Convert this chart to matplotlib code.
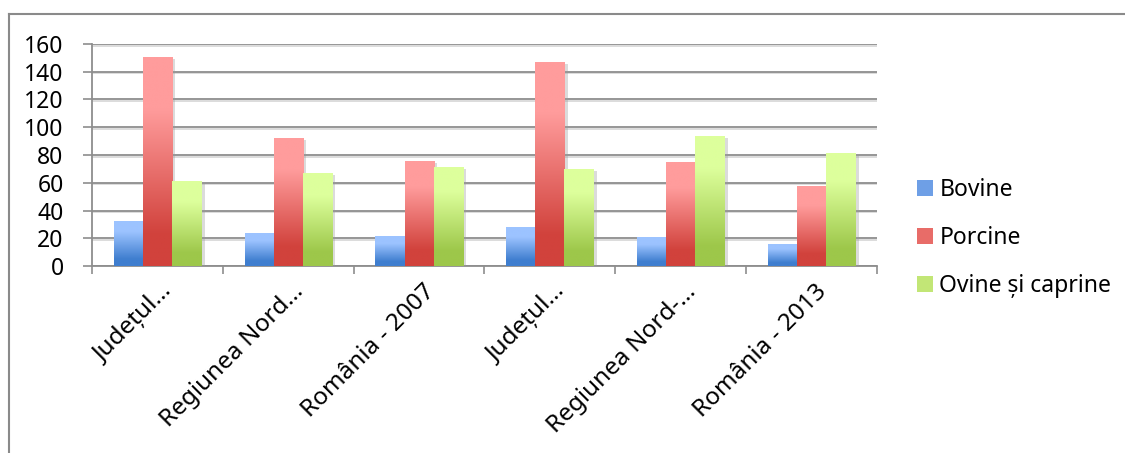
import matplotlib
matplotlib.use("Agg")
import matplotlib.pyplot as plt
import matplotlib.patheffects as pe
import matplotlib.transforms as mtransforms
from matplotlib.colors import LinearSegmentedColormap
from matplotlib.patches import Rectangle
from matplotlib.lines import Line2D
import numpy as np

plt.rcParams["font.family"] = ["Noto Sans", "DejaVu Sans"]

categories = ["Județul…", "Regiunea Nord…", "România - 2007",
              "Județul…", "Regiunea Nord-…", "România - 2013"]
series_names = ["Bovine", "Porcine", "Ovine și caprine"]
bovine = [32.5, 23.8, 21.6, 28.1, 20.7, 15.9]
porcine = [150.8, 92.4, 75.8, 147.2, 75.0, 57.7]
ovine = [61.3, 67.1, 71.4, 70.0, 93.8, 81.5]
y_ticks = [0, 20, 40, 60, 80, 100, 120, 140, 160]

# bottom (dark) -> top (light) gradient colours per series
grad_colors = [("#3F7ECF", "#9CC3FF"), ("#D1423C", "#FF9C9C"), ("#9DC74A", "#DDFF9C")]

fig = plt.figure(figsize=(11.25, 4.53), dpi=100)
ax = fig.add_axes([92 / 1125, 1 - 266 / 453, (877 - 92) / 1125, (266 - 44) / 453])

x = np.arange(len(categories))
w = 1 / 4.5
grey = "#8E8E8E"

for i, (vals, (c0, c1)) in enumerate(zip([bovine, porcine, ovine], grad_colors)):
    cmap = LinearSegmentedColormap.from_list(
        f"g{i}", [(0, c0), (0.15, c0), (0.75, c1), (1, c1)])
    bars = ax.bar(x + (i - 1) * w, vals, width=w, color=c0, zorder=3,
                  path_effects=[pe.SimplePatchShadow(offset=(2.5, -1.5), shadow_rgbFace="#9a9a9a", alpha=0.35),
                                pe.Normal()])
    for b in bars:
        x0, y0 = b.get_x(), b.get_y()
        x1, y1 = x0 + b.get_width(), y0 + b.get_height()
        grad = np.linspace(0, 1, 256).reshape(-1, 1)
        im = ax.imshow(grad, cmap=cmap, origin="lower", aspect="auto",
                       extent=(x0, x1, y0, y1), zorder=4, interpolation="bilinear")
        im.set_clip_path(b)

ax.set_xlim(-0.5, len(categories) - 0.5)
ax.set_ylim(0, 160)
ax.set_yticks(y_ticks)
ax.tick_params(axis="y", direction="out", length=6.5, width=1.2, color=grey,
               labelsize=16.5, pad=14)
ax.yaxis.grid(True, color=grey, linewidth=1.3, zorder=1,
              path_effects=[pe.SimpleLineShadow(offset=(0, -1.2), shadow_color="#cfcfcf", alpha=0.8), pe.Normal()])
ax.set_axisbelow(True)

# category boundary ticks + centred labels
ax.set_xticks(np.arange(-0.5, len(categories)), minor=True)
ax.tick_params(axis="x", which="minor", direction="out", length=6, width=1.2, color=grey)
ax.set_xticks(x)
ax.set_xticklabels(categories, rotation=45, ha="right", va="center",
                   rotation_mode="anchor", fontsize=17.5)
ax.tick_params(axis="x", which="major", length=0, pad=16)
offset = mtransforms.ScaledTranslation(12 / 100, 0, fig.dpi_scale_trans)
for lab in ax.get_xticklabels():
    lab.set_transform(lab.get_transform() + offset)

for side in ["top", "right"]:
    ax.spines[side].set_visible(False)
for side in ["left", "bottom"]:
    ax.spines[side].set_color(grey)
    ax.spines[side].set_linewidth(1.3)

handles = [Rectangle((0, 0), 1, 1, facecolor=col) for col in ["#6E9FE6", "#E86C68", "#C2E676"]]
fig.legend(handles, series_names, loc="center left", bbox_to_anchor=(917 / 1125, 1 - 238 / 453),
           frameon=False, fontsize=16.5, handlelength=0.68, handleheight=0.68,
           handletextpad=0.3, labelspacing=1.05, borderpad=0, borderaxespad=0)

# outer chart border (only left and top edges are in frame)
fig.add_artist(Line2D([9 / 1125, 9 / 1125], [0, 1 - 14 / 453], transform=fig.transFigure,
                      color="#8a8a8a", linewidth=1.5))
fig.add_artist(Line2D([9 / 1125, 1], [1 - 14 / 453, 1 - 14 / 453], transform=fig.transFigure,
                      color="#8a8a8a", linewidth=1.5))

fig.savefig("out.png", dpi=100)
